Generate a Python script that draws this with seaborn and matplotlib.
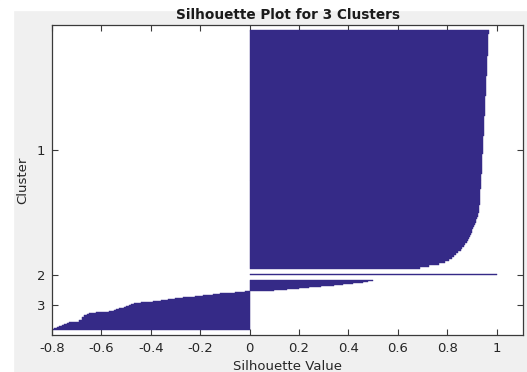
import numpy as np
import pandas as pd
import matplotlib
matplotlib.use("Agg")
import matplotlib.pyplot as plt
import seaborn as sns
from matplotlib.patches import Rectangle

# silhouette values, sorted within each cluster (top -> bottom)
cluster_names = ["1", "2", "3"]

sil_cluster1 = [0.968, 0.968, 0.967, 0.967, 0.967, 0.966, 0.966, 0.966, 0.965, 0.965,
                0.964, 0.964, 0.964, 0.963, 0.963, 0.962, 0.962, 0.962, 0.961, 0.961,
                0.960, 0.960, 0.960, 0.959, 0.959, 0.958, 0.958, 0.958, 0.957, 0.957,
                0.956, 0.956, 0.956, 0.955, 0.955, 0.954, 0.954, 0.954, 0.953, 0.953,
                0.952, 0.952, 0.952, 0.951, 0.951, 0.950, 0.950, 0.950, 0.949, 0.949,
                0.948, 0.948, 0.948, 0.947, 0.947, 0.946, 0.946, 0.946, 0.945, 0.945,
                0.944, 0.944, 0.943, 0.943, 0.942, 0.942, 0.941, 0.941, 0.940, 0.940,
                0.939, 0.939, 0.938, 0.938, 0.937, 0.937, 0.936, 0.936, 0.935, 0.935,
                0.934, 0.934, 0.933, 0.933, 0.932, 0.932, 0.931, 0.931, 0.930, 0.929,
                0.928, 0.927, 0.925, 0.923, 0.921, 0.918, 0.915, 0.912, 0.909, 0.905,
                0.902, 0.899, 0.896, 0.892, 0.888, 0.884, 0.879, 0.874, 0.868, 0.862,
                0.854, 0.845, 0.836, 0.826, 0.818, 0.808, 0.790, 0.768, 0.728, 0.690]
sil_cluster2 = [1.0]
sil_cluster3 = [0.50, 0.48, 0.46, 0.42, 0.38, 0.34, 0.29, 0.24, 0.20, 0.15,
                0.10, -0.02, -0.06, -0.12, -0.15, -0.19, -0.22, -0.27, -0.30, -0.33,
                -0.36, -0.39, -0.44, -0.47, -0.48, -0.49, -0.50, -0.51, -0.53, -0.54,
                -0.55, -0.57, -0.62, -0.65, -0.66, -0.67, -0.67, -0.68, -0.68, -0.68,
                -0.69, -0.69, -0.73, -0.74, -0.75, -0.76, -0.77, -0.78, -0.79, -0.80]

x_ticks = [-0.8, -0.6, -0.4, -0.2, 0, 0.2, 0.4, 0.6, 0.8, 1.0]
x_tick_labels = ["-0.8", "-0.6", "-0.4", "-0.2", "0", "0.2", "0.4", "0.6", "0.8", "1"]

# layout: how many plot rows one listed value covers, and the gap between clusters
rows_per_value = [2, 1, 1]
gap = 5
bar_color = "#352a87"
frame_color = "#3a3a3a"

sns.set_style("ticks")
plt.rcParams["font.family"] = ["DejaVu Sans"]

fig = plt.figure(figsize=(5.27, 3.72), dpi=100, facecolor="#f0f0f0")
# white screenshot margins on the left and top
fig.patches.append(Rectangle((0, 0), 13 / 527, 1, transform=fig.transFigure,
                             color="white", zorder=-1))
fig.patches.append(Rectangle((0, 1 - 10 / 372), 1, 10 / 372, transform=fig.transFigure,
                             color="white", zorder=-1))

ax = fig.add_axes([52 / 527, 1 - 335 / 372, 471 / 527, 310 / 372])
ax.set_facecolor("white")

start = gap
centers = []
for vals, block in zip([sil_cluster1, sil_cluster2, sil_cluster3], rows_per_value):
    n = len(vals)
    rows = start + block * (np.arange(n) + 0.5)
    df = pd.DataFrame({"value": vals, "row": rows})
    sns.barplot(data=df, x="value", y="row", orient="h", native_scale=True,
                width=1, color=bar_color, saturation=1, errorbar=None,
                edgecolor=bar_color, linewidth=0.3, ax=ax)
    centers.append(start + n * block / 2)
    start += n * block + gap

ax.set_xlim(-0.8, 1.107)
ax.set_ylim(start, 0)
ax.set_xticks(x_ticks)
ax.set_xticklabels(x_tick_labels)
ax.set_yticks(centers)
ax.set_yticklabels(cluster_names)

ax.tick_params(direction="in", top=True, right=True, length=4, width=0.8,
               color=frame_color, labelcolor="#262626", labelsize=9.5, pad=5)
for sp in ax.spines.values():
    sp.set_visible(True)
    sp.set_color(frame_color)
    sp.set_linewidth(0.9)

ax.set_title("Silhouette Plot for 3 Clusters", fontsize=9.8, fontweight="bold",
             color="#1a1a1a", pad=4)
ax.set_xlabel("Silhouette Value", fontsize=9.5, color="#262626", labelpad=4)
ax.set_ylabel("Cluster", fontsize=9.5, color="#262626", labelpad=5)

fig.savefig("out.png", dpi=100, facecolor=fig.get_facecolor())
